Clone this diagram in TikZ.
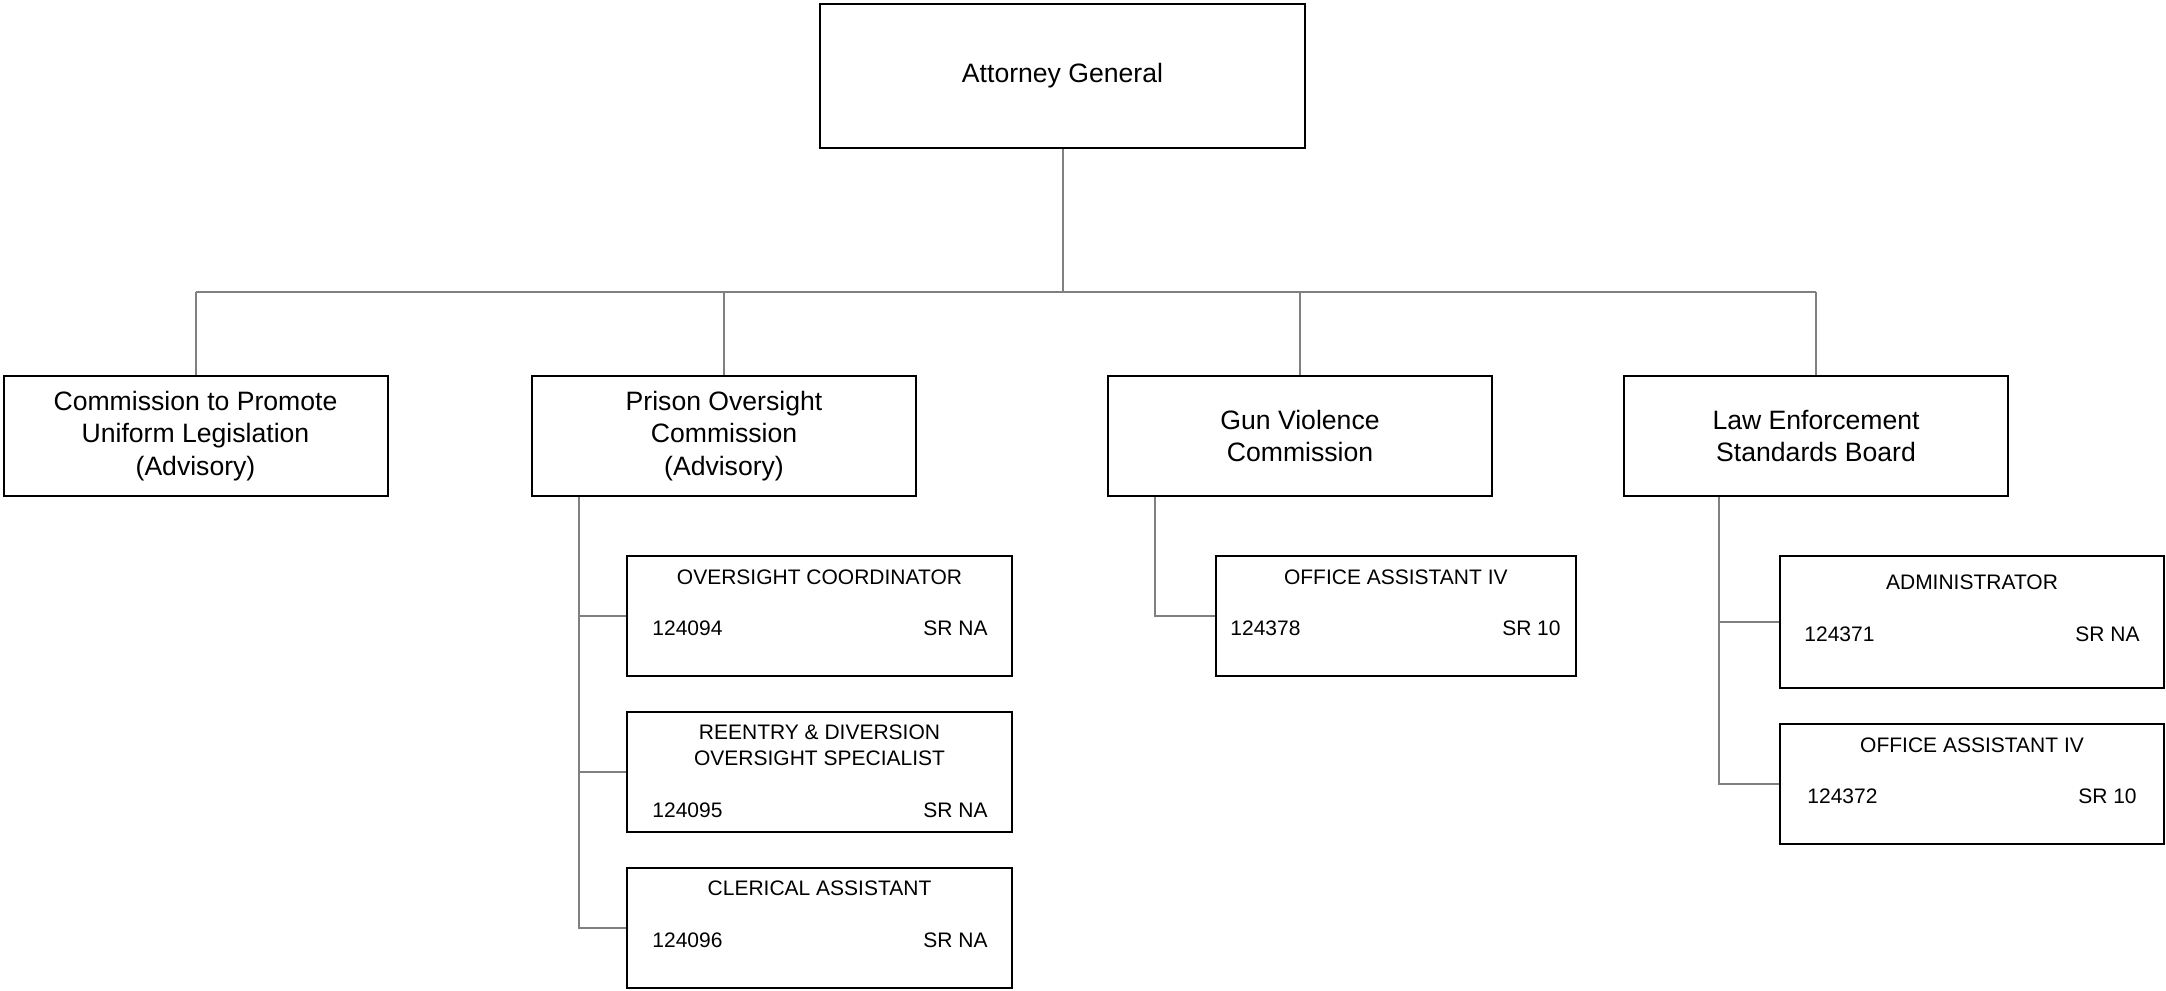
\documentclass[tikz,border=0pt]{standalone}
\usepackage{fontspec}
\setmainfont{Liberation Sans}
\usetikzlibrary{calc}
\definecolor{linkgray}{RGB}{128,128,128}

\begin{document}
\begin{tikzpicture}[x=0.5pt,y=-0.5pt,
  unit/.style={draw,line width=1pt,minimum width=192pt,minimum height=60pt,inner sep=0pt,
    align=center,font=\fontsize{13.3}{16.2}\selectfont},
  posbox/.style={draw,line width=1pt,minimum width=192.5pt,minimum height=60pt,inner sep=0pt},
  postext/.style={inner sep=0pt,align=center,font=\fontsize{10.5}{13}\selectfont},
  link/.style={draw=linkgray,line width=1pt}]
  \useasboundingbox (0,0) rectangle (2166,990);

  % top and the four boards
  \node[unit,minimum width=242.5pt,minimum height=72pt] (ag) at (1062.5,76) {Attorney General};
  \node[unit] (cpul) at (195.5,436) {Commission to Promote\\Uniform Legislation\\(Advisory)};
  \node[unit] (poc) at (724,436) {Prison Oversight\\Commission\\(Advisory)};
  \node[unit] (gvc) at (1300,436) {Gun Violence\\Commission};
  \node[unit] (lesb) at (1816,436) {Law Enforcement\\Standards Board};

  \coordinate (bus) at (0,292);
  \draw[link] (ag.south) -- (ag.south |- bus);
  \draw[link] (cpul.north |- bus) -- (lesb.north |- bus);
  \foreach \n in {cpul,poc,gvc,lesb}
    \draw[link] (\n.north |- bus) -- (\n.north);

  % prison oversight positions
  \node[posbox] (oc) at (819.5,616) {};
  \node[postext] (oct) at (819.5,577) {OVERSIGHT COORDINATOR};
  \node[postext,anchor=west] (ocn) at (652,628) {124094};
  \node[postext,anchor=east] (ocg) at (988,628) {SR NA};

  \node[posbox] (reds) at (819.5,771.7) {};
  \node[postext] (redst) at (819.5,745) {REENTRY \& DIVERSION\\OVERSIGHT SPECIALIST};
  \node[postext,anchor=west] (redsn) at (652,810) {124095};
  \node[postext,anchor=east] (redsg) at (988,810) {SR NA};

  \node[posbox] (ca) at (819.5,928) {};
  \node[postext] (cat) at (819.5,888) {CLERICAL ASSISTANT};
  \node[postext,anchor=west] (can) at (652,940) {124096};
  \node[postext,anchor=east] (cag) at (988,940) {SR NA};

  \coordinate (pot) at ($(poc.south west)+(47.6,0)$);
  \draw[link] (pot) |- (ca.west);
  \foreach \n in {oc,reds}
    \draw[link] (pot |- \n.west) -- (\n.west);

  % gun violence positions
  \node[posbox,minimum width=180.2pt] (oa1) at (1395.8,616) {};
  \node[postext] (oa1t) at (1395.8,577) {OFFICE ASSISTANT IV};
  \node[postext,anchor=west] (oa1n) at (1230,628) {124378};
  \node[postext,anchor=east] (oa1g) at (1561,628) {SR 10};

  \coordinate (gvt) at ($(gvc.south west)+(47.6,0)$);
  \draw[link] (gvt) |- (oa1.west);

  % standards board positions
  \node[posbox,minimum width=192pt,minimum height=66pt] (adm) at (1972,622) {};
  \node[postext] (admt) at (1972,582) {ADMINISTRATOR};
  \node[postext,anchor=west] (admn) at (1804,634) {124371};
  \node[postext,anchor=east] (admg) at (2140,634) {SR NA};

  \node[posbox,minimum width=192pt] (oa2) at (1972,783.7) {};
  \node[postext] (oa2t) at (1972,745) {OFFICE ASSISTANT IV};
  \node[postext,anchor=west] (oa2n) at (1807,796) {124372};
  \node[postext,anchor=east] (oa2g) at (2137,796) {SR 10};

  \coordinate (lest) at ($(lesb.south west)+(96,0)$);
  \draw[link] (lest) |- (oa2.west);
  \draw[link] (lest |- adm.west) -- (adm.west);
\end{tikzpicture}
\end{document}
